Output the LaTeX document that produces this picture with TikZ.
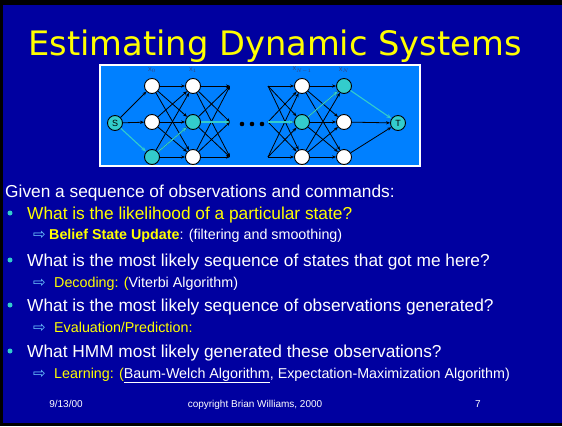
\documentclass[tikz,border=0pt]{standalone}
\usepackage{fontspec}
\setmainfont{Liberation Sans}
\newfontfamily\headfont{DejaVu Sans}
\usetikzlibrary{arrows.meta}

\definecolor{slidebg}{RGB}{0,0,160}
\definecolor{panel}{RGB}{0,128,255}
\definecolor{tealc}{RGB}{51,204,204}
\definecolor{hl}{RGB}{255,255,0}
\definecolor{arrowc}{RGB}{110,200,255}
\definecolor{lbl}{RGB}{60,60,110}

\begin{document}
\begin{tikzpicture}[x=1pt,y=-1pt,
  state/.style={circle,draw=black,line width=0.9pt,fill=white,minimum size=15pt,inner sep=0pt,
                font=\fontsize{9}{10}\selectfont},
  active/.style={state,fill=tealc},
  edge/.style={draw=black,line width=0.8pt,-{Stealth[length=4pt,width=3.2pt]}},
  hot/.style={draw=tealc,line width=1.1pt,-{Stealth[length=5pt,width=3.8pt]}},
  lab/.style={font=\fontsize{5.5}{6}\selectfont,text=lbl,inner sep=0pt},
  main/.style={anchor=base west,inner sep=0pt,font=\fontsize{17.3}{20}\selectfont},
  sub/.style={anchor=base west,inner sep=0pt,font=\fontsize{14.3}{17}\selectfont},
  pointer/.style={anchor=base west,inner sep=0pt,text=arrowc,font=\headfont\fontsize{15}{16}\selectfont},
  bul/.style={circle,fill=tealc,inner sep=0pt,minimum size=5pt},
  foot/.style={anchor=base,inner sep=0pt,text=white,font=\fontsize{10}{12}\selectfont}
]
\useasboundingbox (0,0) rectangle (562,426);

% slide frame and background
\fill[black] (0,0) rectangle (562,426);
\fill[slidebg] (3,5) rectangle (562,423);

% title
\node[anchor=base west,inner sep=0pt,text=hl,font=\headfont\fontsize{33.7}{40}\selectfont]
  (title) at (28,55) {Estimating Dynamic Systems};

% trellis panel
\draw[fill=panel,draw=white,line width=1.5pt] (100,65) rectangle (420,166);

\node[active] (S) at (115,123) {S};
\node[state]  (a1) at (152,86)  {};
\node[state]  (a2) at (152,122) {};
\node[active] (a3) at (152,157) {};
\node[state]  (b1) at (193,86)  {};
\node[active] (b2) at (193,122) {};
\node[state]  (b3) at (193,157) {};
\node[state]  (c1) at (302,86)  {};
\node[active] (c2) at (302,122) {};
\node[state]  (c3) at (302,157) {};
\node[active] (d1) at (344,86)  {};
\node[state]  (d2) at (344,122) {};
\node[state]  (d3) at (344,157) {};
\node[active] (T) at (398,123) {T};

\coordinate (r1) at (230,86);
\coordinate (r2) at (230,122);
\coordinate (r3) at (230,157);
\coordinate (l1) at (268,86);
\coordinate (l2) at (268,122);
\coordinate (l3) at (268,157);

\node[lab] (xa) at (152,70) {X$_0$};
\node[lab] (xb) at (193,70) {X$_1$};
\node[lab] (xc) at (302,70) {X$_{N-1}$};
\node[lab] (xd) at (344,70) {X$_N$};

% dots between the two halves
\fill[black] (242,124) circle (2.3) (252,124) circle (2.3) (262,124) circle (2.3);

% all transitions
\foreach \u in {a1,a2} \draw[edge] (S) -- (\u);
\foreach \u in {a1,a2,a3}{
  \foreach \v in {b1,b2,b3} \draw[edge] (\u) -- (\v);
}
\foreach \u in {b1,b2,b3}{
  \foreach \v in {r1,r2,r3} \draw[edge] (\u) -- (\v);
}
\foreach \u in {l1,l2,l3}{
  \foreach \v in {c1,c2,c3} \draw[edge] (\u) -- (\v);
}
\foreach \u in {c1,c2,c3}{
  \foreach \v in {d1,d2,d3} \draw[edge] (\u) -- (\v);
}
\foreach \u in {d2,d3} \draw[edge] (\u) -- (T);

% most likely state sequence
\draw[hot] (S) -- (a3);
\draw[hot] (a3) -- (b2);
\draw[hot] (b2) -- (r2);
\draw[hot] (l2) -- (c2);
\draw[hot] (c2) -- (d1);
\draw[hot] (d1) -- (T);

% text body
\node[main,text=white] (given) at (5,197) {Given a sequence of observations and commands:};

\node[bul] (p1) at (10,213) {};
\node[main,text=hl] (q1) at (27,219) {What is the likelihood of a particular state?};
\node[pointer] (s1) at (33,239) {⇨};
\node[sub,text=white] (t1) at (49,239) {{\color{hl}\bfseries Belief State Update}: (filtering and smoothing)};

\node[bul] (p2) at (10,260) {};
\node[main,text=white] (q2) at (27,266) {What is the most likely sequence of states that got me here?};
\node[pointer] (s2) at (33,287) {⇨};
\node[sub,text=white] (t2) at (54,287) {{\color{hl}Decoding: (}Viterbi Algorithm)};

\node[bul] (p3) at (10,305) {};
\node[main,text=white] (q3) at (27,311) {What is the most likely sequence of observations generated?};
\node[pointer] (s3) at (33,332) {⇨};
\node[sub,text=hl] (t3) at (54,332) {Evaluation/Prediction:};

\node[bul] (p4) at (10,351) {};
\node[main,text=white] (q4) at (27,357) {What HMM most likely generated these observations?};
\node[pointer] (s4) at (33,378) {⇨};
\node[sub,text=white] (t4) at (54,378) {{\color{hl}Learning: (}\underline{Baum-Welch Algorithm}, Expectation-Maximization Algorithm)};

% footer
\node[foot] (date) at (66,407) {9/13/00};
\node[foot] (copy) at (255,407) {copyright Brian Williams, 2000};
\node[foot] (num) at (478,407) {7};
\end{tikzpicture}
\end{document}
